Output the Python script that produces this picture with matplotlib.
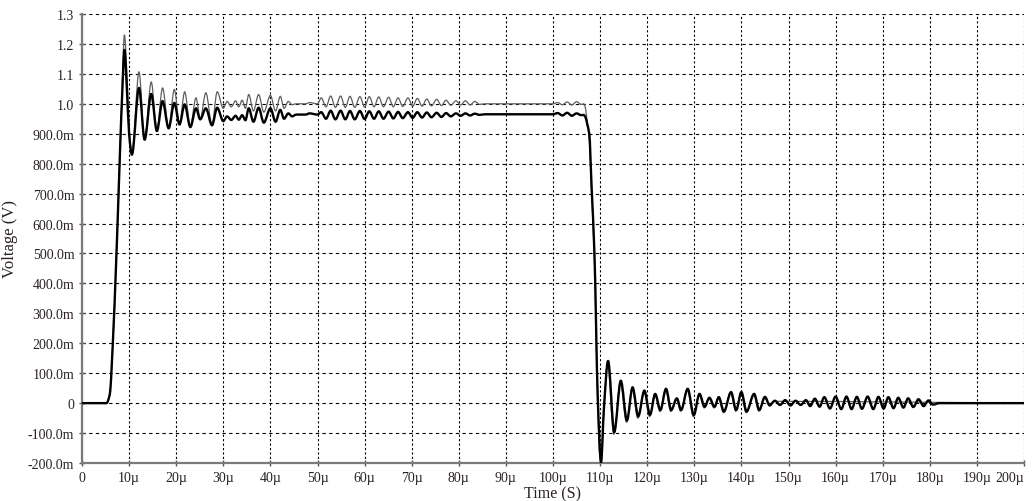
import matplotlib
matplotlib.use("Agg")
import numpy as np
import matplotlib.pyplot as plt
from matplotlib.ticker import FixedLocator
from matplotlib.path import Path
from matplotlib.patches import PathPatch

# ---------------- data (time in µs, voltage in V) ----------------
# thin (grey) trace
t_thin_a = [0, 5.2, 5.9, 6.6, 7.2, 7.7, 8.2, 8.5, 9.0, 9.6, 10.0, 10.6, 12.1, 13.3, 14.7, 15.9,
            17.1, 18.4, 19.6, 20.7, 21.8, 23.0, 24.2, 25.1, 26.3, 27.6, 28.7, 30.0,
            30.8, 31.7, 32.6, 33.3, 34.0, 34.7, 35.4, 36.4, 37.5, 38.6, 40.0, 41.1,
            42.1, 42.9, 43.8, 44.6, 45.5, 47.5, 48.3, 50.0]
v_thin_a = [0, 0, 0.03, 0.22, 0.45, 0.67, 0.9, 1.03, 1.23, 1.08, 0.92, 0.83, 1.107, 0.88, 1.073, 0.91,
            1.053, 0.92, 1.048, 0.935, 1.04, 0.925, 1.02, 0.95, 1.037, 0.93, 1.04, 0.985,
            1.008, 0.99, 1.01, 0.99, 1.012, 0.985, 1.031, 0.976, 1.031, 0.972, 1.028, 0.976,
            1.025, 0.985, 1.008, 0.997, 1.0, 1.0, 1.004, 1.0]
t_thin_b = [50.8, 51.8, 52.8, 53.8, 54.9, 55.9, 56.9, 57.9, 59.0, 60.0, 61.0, 62.0, 63.0, 64.0,
            65.1, 66.1, 67.1, 68.1, 69.2, 70.2, 71.2, 72.2, 73.2, 74.2, 75.3, 76.3, 77.3, 78.3,
            79.4, 80.4, 81.4, 82.4, 83.4, 84.4, 85.5, 100.0, 101.0, 102.0, 103.0, 104.0, 105.0,
            106.0, 106.5]
v_thin_b = [1.02, 0.99, 1.026, 0.988, 1.026, 0.988, 1.025, 0.988, 1.024, 0.989, 1.024, 0.99,
            1.023, 0.99, 1.022, 0.99, 1.02, 0.991, 1.02, 0.992, 1.018, 0.992, 1.016, 0.993,
            1.015, 0.994, 1.012, 0.995, 1.01, 0.996, 1.01, 0.996, 1.008, 0.998, 1.0, 1.0,
            1.004, 0.997, 1.006, 0.996, 1.007, 0.998, 1.0]
t_thin_c = [106.9, 107.3, 107.7, 108.2, 108.8, 109.4, 109.9, 110.2, 110.8, 111.6, 112.9, 114.3,
            115.6, 116.8, 118.0, 119.3, 120.5, 121.6, 122.7, 123.9, 125.0, 126.2, 127.1, 128.5,
            129.8, 131.0, 132.1, 133.1, 134.2, 135.1, 136.2, 137.7, 138.8, 139.9, 141.0, 142.6,
            143.7, 144.9, 146.0, 147.0, 200.0]
v_thin_c = [0.985, 0.93, 0.88, 0.7, 0.48, 0.05, -0.17, -0.2, -0.03, 0.135, -0.104, 0.07,
            -0.064, 0.05, -0.05, 0.04, -0.045, 0.03, -0.028, 0.046, -0.028, 0.014, -0.027, 0.046,
            -0.045, 0.029, -0.016, 0.016, -0.016, 0.018, -0.032, 0.035, -0.027, 0.035, -0.032, 0.029,
            -0.027, 0.019, -0.01, 0.006, 0.0]

# thick (black) trace
t_thick_a = [0, 5.2, 5.9, 6.6, 7.2, 7.7, 8.2, 8.5, 9.0, 9.5, 10.0, 10.6, 12.1, 13.3, 14.7, 15.9,
             17.1, 18.4, 19.6, 20.7, 21.8, 23.0, 24.2, 25.1, 26.3, 27.6, 28.7, 30.0,
             30.8, 31.7, 32.6, 33.3, 34.0, 34.7, 35.4, 36.4, 37.5, 38.6, 40.0, 41.1,
             42.1, 42.9, 43.8, 44.6, 45.5, 47.5, 48.3, 50.0]
v_thick_a = [0, 0, 0.03, 0.22, 0.45, 0.67, 0.9, 1.02, 1.18, 1.06, 0.9, 0.83, 1.053, 0.88, 1.033, 0.909,
             1.009, 0.918, 1.003, 0.931, 0.998, 0.922, 0.985, 0.948, 0.985, 0.928, 0.987, 0.942,
             0.958, 0.946, 0.96, 0.947, 0.962, 0.945, 0.985, 0.94, 0.987, 0.937, 0.985, 0.94,
             0.98, 0.95, 0.968, 0.958, 0.964, 0.964, 0.968, 0.964]
t_thick_b = [50.8, 51.8, 52.8, 53.8, 54.9, 55.9, 56.9, 57.9, 59.0, 60.0, 61.0, 62.0, 63.0, 64.0,
             65.1, 66.1, 67.1, 68.1, 69.2, 70.2, 71.2, 72.2, 73.2, 74.2, 75.3, 76.3, 77.3, 78.3,
             79.4, 80.4, 81.4, 82.4, 83.4, 84.4, 85.5, 100.0, 101.0, 102.0, 103.0, 104.0, 105.0,
             106.0, 106.5]
v_thick_b = [0.972, 0.95, 0.977, 0.948, 0.977, 0.948, 0.976, 0.948, 0.976, 0.949, 0.975, 0.95,
             0.975, 0.95, 0.974, 0.951, 0.973, 0.952, 0.972, 0.953, 0.972, 0.954, 0.971, 0.955,
             0.97, 0.956, 0.969, 0.958, 0.968, 0.96, 0.968, 0.961, 0.967, 0.963, 0.965, 0.965,
             0.969, 0.961, 0.97, 0.96, 0.968, 0.962, 0.963]
t_thick_c = [106.9, 107.3, 107.7, 108.2, 108.8, 109.5, 110.2, 110.8, 111.7, 113.0, 114.4, 115.7,
             116.9, 118.1, 119.4, 120.6, 121.7, 122.8, 124.0, 125.1, 126.3, 127.2, 128.6, 129.9,
             131.1, 132.2, 133.2, 134.3, 135.2, 136.3, 137.8, 138.9, 140.0, 141.1, 142.7, 143.8,
             145.0, 146.0, 147.1, 148.2, 149.3, 150.4, 151.5, 152.6, 153.7, 154.6, 155.6, 156.6,
             157.6, 158.8, 160.0, 161.2, 162.3, 163.4, 164.5, 165.6, 166.8, 168.0, 169.1, 170.2,
             171.2, 172.3, 173.3, 174.4, 175.4, 176.5, 177.6, 178.7, 179.7, 180.7, 182.0, 200.0]
v_thick_c = [0.955, 0.93, 0.9, 0.72, 0.5, 0.02, -0.197, -0.02, 0.141, -0.097, 0.075, -0.058,
             0.053, -0.044, 0.042, -0.039, 0.031, -0.023, 0.048, -0.023, 0.016, -0.023, 0.048, -0.04,
             0.031, -0.012, 0.018, -0.012, 0.02, -0.028, 0.037, -0.023, 0.037, -0.028, 0.031, -0.023,
             0.021, -0.007, 0.008, -0.006, 0.01, -0.008, 0.008, -0.006, 0.01, -0.01, 0.015, -0.012,
             0.02, -0.018, 0.022, -0.02, 0.022, -0.02, 0.021, -0.019, 0.022, -0.02, 0.021, -0.018,
             0.02, -0.017, 0.018, -0.015, 0.016, -0.013, 0.013, -0.01, 0.009, -0.005, 0.0, 0.0]

x_ticks = [0, 10, 20, 30, 40, 50, 60, 70, 80, 90, 100, 110, 120, 130, 140, 150, 160, 170, 180, 190, 200]
x_labels = ["0", "10µ", "20µ", "30µ", "40µ", "50µ", "60µ", "70µ", "80µ", "90µ", "100µ", "110µ",
            "120µ", "130µ", "140µ", "150µ", "160µ", "170µ", "180µ", "190µ", "200µ"]
y_ticks = [-0.2, -0.1, 0.0, 0.1, 0.2, 0.3, 0.4, 0.5, 0.6, 0.7, 0.8, 0.9, 1.0, 1.1, 1.2, 1.3]
y_labels = ["-200.0m", "-100.0m", "0", "100.0m", "200.0m", "300.0m", "400.0m", "500.0m",
            "600.0m", "700.0m", "800.0m", "900.0m", "1.0", "1.1", "1.2", "1.3"]


def smooth_path(t, v):
    """Draw the read vertices as a smooth curve (monotone cubic Bezier segments)."""
    t = np.asarray(t, float)
    v = np.asarray(v, float)
    h = np.diff(t)
    d = np.diff(v) / h
    m = np.zeros_like(v)
    m[0], m[-1] = d[0], d[-1]
    for k in range(1, len(v) - 1):
        if d[k - 1] * d[k] > 0:
            w1 = 2 * h[k] + h[k - 1]
            w2 = h[k] + 2 * h[k - 1]
            m[k] = (w1 + w2) / (w1 / d[k - 1] + w2 / d[k])
    verts = [(t[0], v[0])]
    codes = [Path.MOVETO]
    for k in range(len(t) - 1):
        verts += [(t[k] + h[k] / 3, v[k] + m[k] * h[k] / 3),
                  (t[k + 1] - h[k] / 3, v[k + 1] - m[k + 1] * h[k] / 3),
                  (t[k + 1], v[k + 1])]
        codes += [Path.CURVE4] * 3
    return Path(verts, codes)


# ---------------- figure ----------------
plt.rcParams['font.family'] = ['Liberation Serif', 'DejaVu Serif']
text_color = '#2a2222'

fig = plt.figure(figsize=(10.32, 5.02), dpi=100)
ax = fig.add_axes([82 / 1032, 38 / 502, (1024 - 82) / 1032, (464 - 15) / 502])

thin_path = smooth_path(t_thin_a + t_thin_b + t_thin_c, v_thin_a + v_thin_b + v_thin_c)
thick_path = smooth_path(t_thick_a + t_thick_b + t_thick_c, v_thick_a + v_thick_b + v_thick_c)
ax.add_patch(PathPatch(thin_path, fill=False, edgecolor='#5e5e5e', lw=0.9,
                       joinstyle='round', capstyle='round', transform=ax.transData, zorder=3))
ax.add_patch(PathPatch(thick_path, fill=False, edgecolor='black', lw=1.7,
                       joinstyle='round', capstyle='round', transform=ax.transData, zorder=4))

ax.set_xlim(0, 200)
ax.set_ylim(-0.2, 1.3)

ax.xaxis.set_major_locator(FixedLocator(x_ticks))
ax.yaxis.set_major_locator(FixedLocator(y_ticks))
ax.set_xticklabels(x_labels)
ax.set_yticklabels(y_labels)
ax.get_xticklabels()[-1].set_horizontalalignment('right')

for s in ['top', 'right']:
    ax.spines[s].set_visible(False)
for s in ['left', 'bottom']:
    ax.spines[s].set_color('#7a7a7a')
    ax.spines[s].set_linewidth(1.6)

ax.tick_params(axis='both', direction='inout', length=5, width=1.0, color='#555555',
               labelsize=10, labelcolor=text_color, pad=3)

ax.xaxis.grid(True, color='black', linestyle=(0, (2, 2)), linewidth=0.8)
ax.yaxis.grid(True, color='black', linestyle=(0, (3, 3)), linewidth=0.8)
ax.set_axisbelow(True)

ax.set_xlabel('Time (S)', fontsize=11.5, color=text_color, labelpad=1)
ax.set_ylabel('Voltage (V)', fontsize=12, color=text_color, labelpad=7)

fig.savefig('out.png', dpi=100)
